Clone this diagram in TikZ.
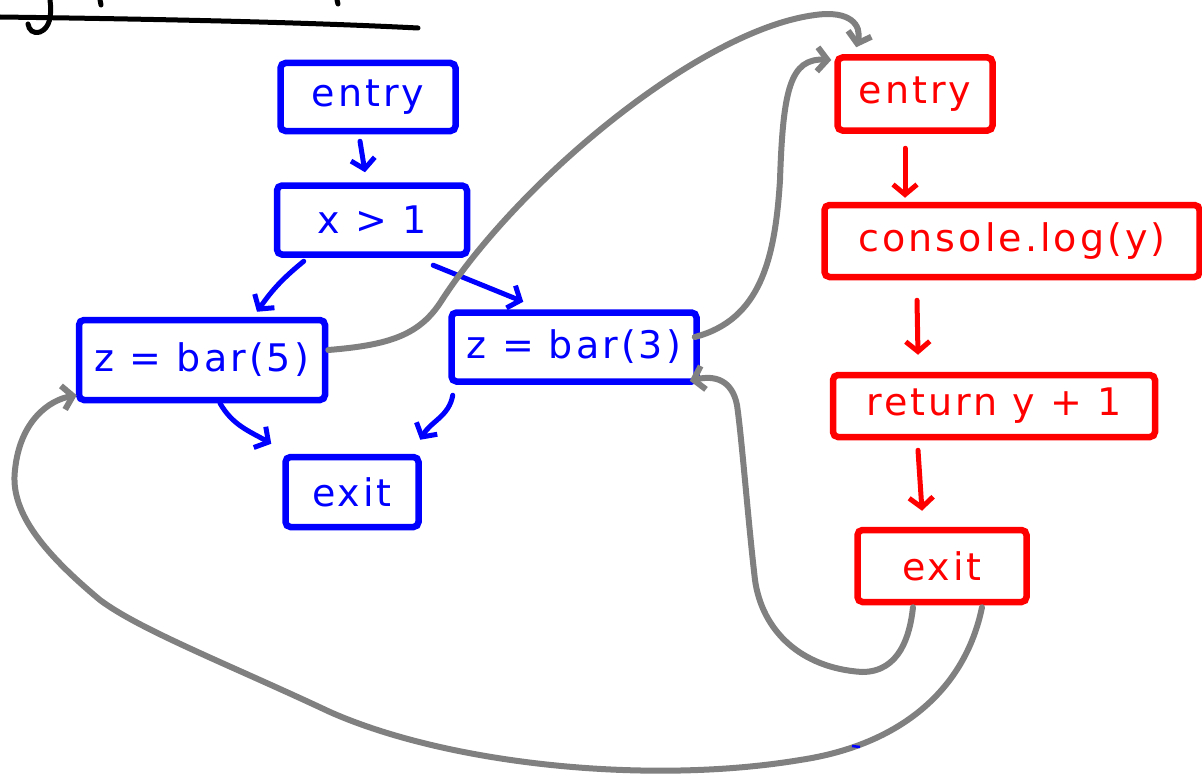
\documentclass[tikz,border=0pt]{standalone}
\usepackage{fontspec}
\setmainfont{DejaVu Sans}
\newfontfamily\handfont[LetterSpace=8]{DejaVu Sans}
\usetikzlibrary{arrows.meta}
\definecolor{pgray}{RGB}{128,128,128}
\begin{document}
\begin{tikzpicture}[x=1pt,y=-1pt,
  bx/.style={draw, line width=6.5pt, rounded corners=5pt, inner sep=0pt, font=\handfont\fontsize{38}{44}\selectfont},
  blu/.style={bx, draw=blue, text=blue},
  rd/.style={bx, draw=red, text=red},
  arr/.style={line width=5pt, line cap=round, -{Straight Barb[length=10pt,width=24pt]}},
  garr/.style={arr, draw=pgray, line width=6pt}
]
\useasboundingbox (0,0) rectangle (1202,776);

% top-left cut-off handwriting
\draw[line width=5pt, line cap=round] (0,17) .. controls (150,19) and (300,22) .. (418,28);
\draw[line width=5pt, line cap=round] (50,0) .. controls (52,15) and (50,28) .. (40,32) .. controls (33,34) and (29,30) .. (28,24);
\draw[line width=5pt, line cap=round] (100,0) -- (101,5);
\draw[line width=5pt, line cap=round] (337,0) -- (338,4);

% blue graph
\node[blu, minimum width=175pt, minimum height=68pt] (be) at (368,97) {entry};
\node[blu, minimum width=190pt, minimum height=69pt] (bx) at (372,220) {x > 1};
\node[blu, minimum width=246pt, minimum height=80pt] (b5) at (202,360) {z = bar(5)};
\node[blu, minimum width=245pt, minimum height=69pt] (b3) at (574,347) {z = bar(3)};
\node[blu, minimum width=133pt, minimum height=70pt] (bex) at (352,492) {exit};

\draw[arr, blue] ([xshift=-8pt,yshift=-7pt]be.south) -- ([xshift=-7pt,yshift=10pt]bx.north);
\draw[arr, blue] ([xshift=30pt,yshift=-3.5pt]bx.south west) to[bend right=8] ([xshift=55pt,yshift=5pt]b5.north);
\draw[arr, blue] ([xshift=-37pt,yshift=-7.5pt]bx.south east) -- ([xshift=75pt,yshift=7.5pt]b3.north west);
\draw[arr, blue] ([xshift=18pt]b5.south) to[out=-60,in=150] ([xshift=-11pt,yshift=10pt]bex.north west);
\draw[arr, blue] ([xshift=4.5pt,yshift=-10.5pt]b3.south west) to[out=-100,in=60] ([xshift=-1.5pt,yshift=14pt]bex.north east);

% red graph
\node[rd, minimum width=155pt, minimum height=73pt] (re) at (915,94) {entry};
\node[rd, minimum width=375pt, minimum height=72pt] (rc) at (1012,241) {console.log(y)};
\node[rd, minimum width=322pt, minimum height=62pt] (rr) at (994,406) {return y + 1};
\node[rd, minimum width=169pt, minimum height=72pt] (rx) at (942,566) {exit};

\draw[arr, red] ([xshift=-10pt,yshift=-14.5pt]re.south) -- ([xshift=-107pt,yshift=4pt]rc.north);
\draw[arr, red] ([xshift=-95pt,yshift=-20pt]rc.south) -- ([xshift=-76pt,yshift=17pt]rr.north);
\draw[arr, red] ([xshift=-76pt,yshift=-10pt]rr.south) -- ([xshift=-20pt,yshift=16pt]rx.north);

% gray call/return edges
\draw[garr] ([yshift=10pt]b5.east) .. controls (390,345) and (420,335) .. (442,300)
  .. controls (520,180) and (700,30) .. (815,15)
  .. controls (850,10) and (862,25) .. ([xshift=22pt,yshift=7pt]re.north west);
\draw[garr] ([xshift=-5pt,yshift=10pt]b3.east) .. controls (760,320) and (775,260) .. (780,180)
  .. controls (783,90) and (790,58) .. ([xshift=-3pt,yshift=34pt]re.west);
\draw[garr] ([xshift=-29pt,yshift=-2pt]rx.south) .. controls (910,635) and (900,672) .. (862,672)
  .. controls (800,668) and (762,630) .. (755,580)
  .. controls (748,520) and (742,440) .. (737,405)
  .. controls (732,380) and (715,375) .. ([xshift=-10pt,yshift=4pt]b3.south east);
\draw[garr] ([xshift=40pt,yshift=-2pt]rx.south) .. controls (965,690) and (900,745) .. (800,760)
  .. controls (650,785) and (450,765) .. (330,712)
  .. controls (230,665) and (140,630) .. (100,600)
  .. controls (40,550) and (10,510) .. (15,470)
  .. controls (20,420) and (50,400) .. ([xshift=1pt,yshift=8pt]b5.south west);

% stray blue mark
\draw[blue, line width=2.5pt] (852,746) -- (860,747);
\end{tikzpicture}
\end{document}
